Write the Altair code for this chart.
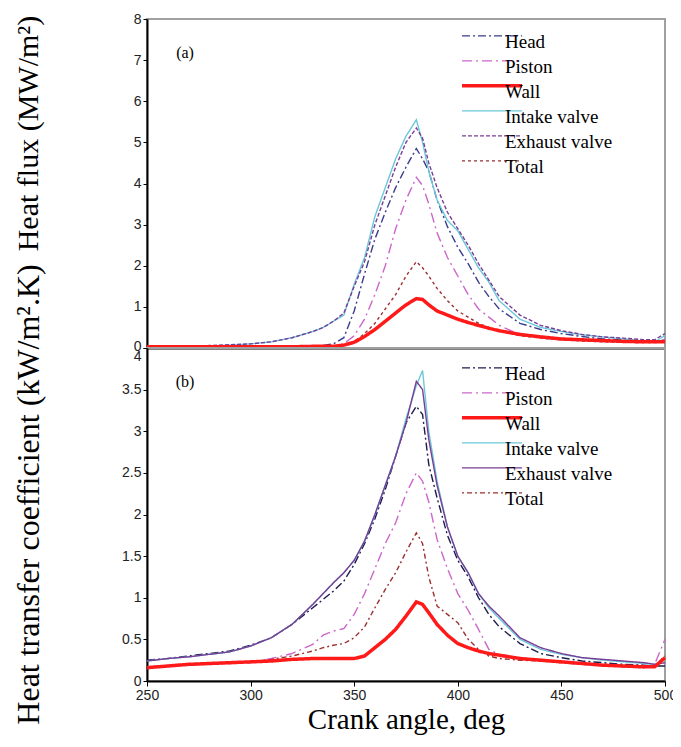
import altair as alt
import pandas as pd

# ---------------- data ----------------
angles = [250, 260, 270, 280, 290, 300, 310, 320, 330,
          335, 340, 345, 350, 355, 360, 365, 370, 375, 380,
          383, 386,
          390, 395, 400, 405, 410, 415, 420,
          430, 440, 450, 460, 470, 480, 490,
          495, 500]

series = ["Head", "Piston", "Wall", "Intake valve", "Exhaust valve", "Total"]
panel_labels = ["(a)", "(b)"]

# (a) heat flux, MW/m2
head_a = [0.05, 0.05, 0.05, 0.05, 0.05, 0.05, 0.05, 0.05, 0.05,
          0.06, 0.1, 0.25, 0.9, 1.8, 2.65, 3.3, 3.9, 4.4, 4.85,
          4.6, 4.3,
          3.6, 2.95, 2.45, 2.05, 1.6, 1.25, 0.95,
          0.6, 0.45, 0.35, 0.28, 0.22, 0.2, 0.17,
          0.15, 0.2]
piston_a = [0.03, 0.03, 0.03, 0.03, 0.03, 0.04, 0.04, 0.04, 0.05,
            0.05, 0.05, 0.1, 0.3, 0.7, 1.3, 2.0, 2.9, 3.6, 4.15,
            3.95, 3.5,
            2.8, 2.2, 1.75, 1.3, 0.95, 0.75, 0.55,
            0.32, 0.25, 0.2, 0.18, 0.16, 0.15, 0.14,
            0.14, 0.2]
wall_a = [0.03, 0.03, 0.03, 0.03, 0.03, 0.03, 0.03, 0.03, 0.04,
          0.04, 0.04, 0.07, 0.14, 0.28, 0.45, 0.65, 0.85, 1.05, 1.2,
          1.18, 1.05,
          0.9, 0.8, 0.7, 0.62, 0.55, 0.48, 0.42,
          0.33, 0.27, 0.22, 0.2, 0.18, 0.16, 0.15,
          0.15, 0.15]
intake_a = [0.05, 0.05, 0.05, 0.05, 0.07, 0.1, 0.15, 0.25, 0.4,
            0.5, 0.65, 0.8, 1.55, 2.2, 3.2, 3.9, 4.6, 5.15, 5.55,
            5.0, 4.3,
            3.6, 3.1, 2.85, 2.4, 1.95, 1.6, 1.15,
            0.7, 0.5, 0.4, 0.32, 0.27, 0.22, 0.17,
            0.15, 0.3]
exhaust_a = [0.05, 0.05, 0.05, 0.06, 0.08, 0.1, 0.15, 0.25, 0.4,
             0.5, 0.65, 0.85, 1.5, 2.1, 3.0, 3.7, 4.4, 5.0, 5.35,
             5.1, 4.5,
             3.9, 3.3, 2.9, 2.5, 2.05, 1.65, 1.25,
             0.8, 0.55, 0.42, 0.33, 0.27, 0.24, 0.2,
             0.2, 0.35]
total_a = [0.03, 0.03, 0.03, 0.03, 0.03, 0.03, 0.03, 0.03, 0.04,
           0.04, 0.04, 0.08, 0.15, 0.35, 0.6, 0.95, 1.3, 1.75, 2.1,
           1.95, 1.75,
           1.45, 1.15, 0.9, 0.75, 0.6, 0.5, 0.42,
           0.3, 0.24, 0.2, 0.17, 0.15, 0.14, 0.13,
           0.13, 0.15]

# (b) heat transfer coefficient, kW/m2.K
head_b = [0.25, 0.27, 0.3, 0.33, 0.36, 0.43, 0.52, 0.68, 0.88,
          0.98, 1.08, 1.2, 1.4, 1.65, 1.95, 2.3, 2.7, 3.1, 3.3,
          3.2, 2.6,
          2.2, 1.75, 1.45, 1.25, 1.0, 0.8, 0.65,
          0.45, 0.33, 0.28, 0.24, 0.22, 0.2, 0.19,
          0.18, 0.18]
piston_b = [0.17, 0.18, 0.19, 0.2, 0.21, 0.22, 0.27, 0.33, 0.44,
            0.55, 0.6, 0.63, 0.8, 1.05, 1.35, 1.65, 1.9, 2.25, 2.5,
            2.4, 2.15,
            1.7, 1.35, 1.05, 0.85, 0.62, 0.38, 0.32,
            0.28, 0.25, 0.23, 0.2, 0.19, 0.18, 0.17,
            0.2, 0.5]
wall_b = [0.16, 0.18, 0.2, 0.21, 0.22, 0.23, 0.24, 0.26, 0.27,
          0.27, 0.27, 0.27, 0.27, 0.3, 0.4, 0.5, 0.62, 0.78, 0.95,
          0.92, 0.82,
          0.68, 0.55, 0.45, 0.4, 0.36, 0.33, 0.31,
          0.27, 0.25, 0.23, 0.21, 0.19, 0.18, 0.17,
          0.17, 0.28]
intake_b = [0.24, 0.27, 0.29, 0.32, 0.35, 0.42, 0.52, 0.68, 0.92,
            1.05, 1.18, 1.3, 1.45, 1.68, 2.0, 2.35, 2.7, 3.15, 3.55,
            3.73, 3.0,
            2.4, 1.85, 1.5, 1.3, 1.05, 0.88, 0.75,
            0.5, 0.38, 0.32, 0.28, 0.25, 0.23, 0.21,
            0.2, 0.25]
exhaust_b = [0.24, 0.27, 0.29, 0.32, 0.35, 0.42, 0.52, 0.68, 0.92,
             1.05, 1.18, 1.3, 1.45, 1.68, 2.0, 2.35, 2.7, 3.1, 3.6,
             3.5, 2.9,
             2.35, 1.85, 1.5, 1.3, 1.05, 0.9, 0.78,
             0.52, 0.4, 0.33, 0.28, 0.26, 0.24, 0.22,
             0.2, 0.22]
total_b = [0.17, 0.18, 0.19, 0.21, 0.22, 0.23, 0.26, 0.3, 0.36,
           0.4, 0.43, 0.45, 0.52, 0.65, 0.88, 1.1, 1.3, 1.55, 1.78,
           1.65, 1.25,
           0.9, 0.8, 0.7, 0.5, 0.38, 0.3, 0.27,
           0.25, 0.24, 0.22, 0.2, 0.19, 0.17, 0.16,
           0.18, 0.3]

x_ticks = [250, 300, 350, 400, 450, 500]
y_ticks_a = [0, 1, 2, 3, 4, 5, 6, 7, 8]
y_ticks_b = [0, 0.5, 1, 1.5, 2, 2.5, 3, 3.5, 4]

colors_a = ["#3a3d8c", "#cc66cc", "#ff1a1a", "#6cc8d8", "#7a3d96", "#9a3030"]
colors_b = ["#1c1c50", "#cc66cc", "#ff1a1a", "#6cc8d8", "#7a3d96", "#9a3030"]
dashes_a = [[8, 3, 2, 3], [10, 4, 2, 4], [1, 0], [1, 0], [4, 2], [3, 3]]
dashes_b = [[8, 3, 2, 3], [10, 4, 2, 4], [1, 0], [1, 0], [1, 0], [2, 3, 5, 3]]
widths = [1.4, 1.4, 3.5, 1.4, 1.4, 1.4]

SERIF = "Liberation Serif"
SANS = "Liberation Sans"
# legend key: a line that runs on under the start of its label
KEY_PATH = "M-1,-0.3L1.93,-0.3"


def long_frame(values):
    rows = []
    # Wall drawn last so it sits on top
    order = [0, 1, 3, 4, 5, 2]
    for i in order:
        for a, v in zip(angles, values[i]):
            rows.append({"angle": a, "value": v, "series": series[i]})
    return pd.DataFrame(rows)


def panel(values, colors, dashes, ymax, yticks, ytitle, title_y, title_size, bottom,
          legend_y, label, label_off, height):
    df = long_frame(values)
    legend = alt.Legend(
        title=None, orient="none", legendX=313, legendY=legend_y,
        symbolType=KEY_PATH, symbolSize=1681, symbolOffset=0,
        clipHeight=24, rowPadding=1,
        labelOffset=0, labelFont=SERIF, labelFontSize=19, labelColor="black",
        labelBaseline="middle", labelLimit=300, padding=0,
    )
    if bottom:
        xaxis = alt.Axis(values=x_ticks, title="Crank angle, deg", titleFont=SERIF,
                         titleFontSize=29, titleFontWeight="normal", titleColor="black",
                         titleY=47, titleBaseline="alphabetic",
                         labelFont=SANS, labelFontSize=14,
                         labelColor="#222", tickSize=5, tickColor="black",
                         domainColor="black", domainWidth=2, grid=False, labelFlush=False)
    else:
        xaxis = alt.Axis(values=x_ticks, labels=False, ticks=False, title=None,
                         domainColor="black", domainWidth=2, grid=False)
    yaxis = alt.Axis(values=yticks, format="~g", title=ytitle, titleFont=SERIF,
                     titleFontSize=title_size, titleFontWeight="normal", titleColor="black",
                     titleAngle=270, titleX=-119, titleY=title_y, titleAlign="center",
                     titleBaseline="middle", labelFont=SANS, labelFontSize=14,
                     labelColor="#222", tickSize=4, tickColor="black",
                     domainColor="black", domainWidth=2, grid=False,
                     labelOffset=label_off)
    lines = alt.Chart(df).mark_line(interpolate="linear").encode(
        x=alt.X("angle:Q", scale=alt.Scale(domain=[250, 500], nice=False), axis=xaxis),
        y=alt.Y("value:Q", scale=alt.Scale(domain=[0, ymax], nice=False), axis=yaxis),
        color=alt.Color("series:N", scale=alt.Scale(domain=series, range=colors), legend=legend),
        strokeDash=alt.StrokeDash("series:N", scale=alt.Scale(domain=series, range=dashes), legend=legend),
        strokeWidth=alt.StrokeWidth("series:N", scale=alt.Scale(type="ordinal", domain=series, range=widths), legend=legend),
    )
    lab = alt.Chart(pd.DataFrame({"t": [label]})).mark_text(
        font=SERIF, fontSize=16, color="black", align="center", baseline="middle"
    ).encode(x=alt.value(38), y=alt.value(34), text="t:N")
    return alt.layer(lines, lab).properties(width=518, height=height)


top = panel([head_a, piston_a, wall_a, intake_a, exhaust_a, total_a], colors_a, dashes_a,
            8, y_ticks_a, "Heat flux (MW/m²)", 114, 30, False, 11, panel_labels[0],
            {"condition": {"test": "datum.value == 0", "value": -2}, "value": 0}, 329)
bot = panel([head_b, piston_b, wall_b, intake_b, exhaust_b, total_b], colors_b, dashes_b,
            4, y_ticks_b, "Heat transfer coefficient (kW/m².K)", 146, 32, True, 14, panel_labels[1],
            {"condition": {"test": "datum.value == 4", "value": 8}, "value": 0}, 333)

chart = alt.vconcat(top, bot, spacing=0, bounds="flush").resolve_scale(
    color="independent", strokeDash="independent", strokeWidth="independent"
).resolve_legend(color="independent", strokeDash="independent", strokeWidth="independent").configure_view(
    stroke="#a0a0a0", strokeWidth=2
).properties(background="white", padding={"top": 3, "left": 2, "right": -5, "bottom": 0})

chart.save("out.html", embed_options={"renderer": "svg", "actions": False})
